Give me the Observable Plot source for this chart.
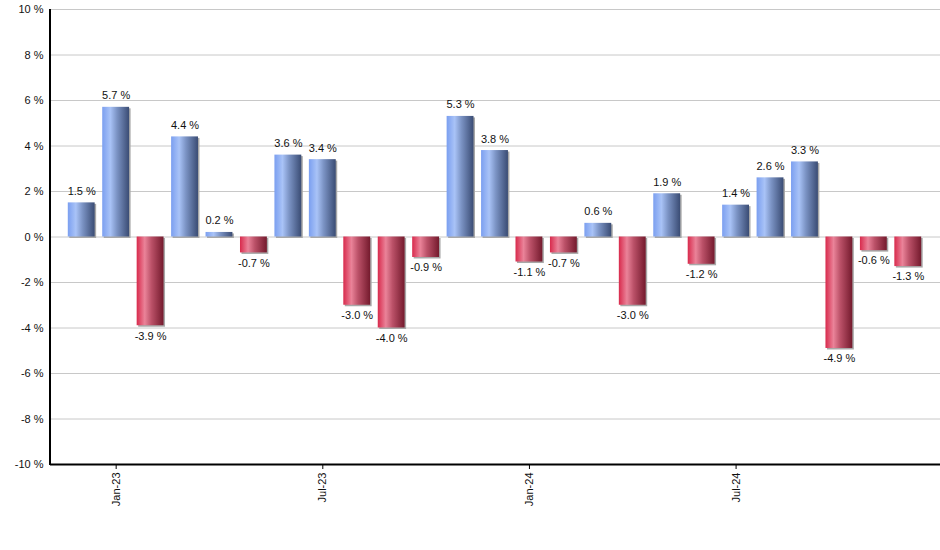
<!DOCTYPE html>
<html>
<head>
<meta charset="utf-8">
<script src="https://cdn.jsdelivr.net/npm/d3@7"></script>
<script src="https://cdn.jsdelivr.net/npm/@observablehq/plot@0.6"></script>
<style>
  html, body { margin: 0; padding: 0; background: #fff; }
  svg { display: block; }
</style>
</head>
<body>
<div id="chart"></div>
<script>
const months = ["Dec-22","Jan-23","Feb-23","Mar-23","Apr-23","May-23","Jun-23","Jul-23","Aug-23","Sep-23","Oct-23","Nov-23","Dec-23",
                "Jan-24","Feb-24","Mar-24","Apr-24","May-24","Jun-24","Jul-24","Aug-24","Sep-24","Oct-24","Nov-24","Dec-24"];
const returns = [1.5, 5.7, -3.9, 4.4, 0.2, -0.7, 3.6, 3.4, -3.0, -4.0, -0.9, 5.3, 3.8,
                 -1.1, -0.7, 0.6, -3.0, 1.9, -1.2, 1.4, 2.6, 3.3, -4.9, -0.6, -1.3];
const xTickLabels = ["Jan-23","Jul-23","Jan-24","Jul-24"];
const yTicks = [-10, -8, -6, -4, -2, 0, 2, 4, 6, 8, 10];

const data = months.map((m, i) => ({month: m, value: returns[i]}));
const pos = data.filter(d => d.value >= 0);
const neg = data.filter(d => d.value < 0);
const fmt = v => v.toFixed(1) + " %";

const W = 940, H = 550, ML = 50, MT = 9, MB = 86, MR = 0;

const plot = Plot.plot({
  width: W, height: H,
  marginLeft: ML, marginRight: MR, marginTop: MT, marginBottom: MB,
  style: {fontFamily: "'Liberation Sans', Arial, sans-serif", fontSize: "11px", color: "#111", background: "#fff"},
  x: {domain: months, range: [64, 925], paddingInner: 0.22, paddingOuter: 0.11, round: false, label: null},
  y: {domain: [-10, 10], label: null},
  marks: [
    Plot.ruleY(yTicks.filter(t => t > -10), {stroke: "#c8c8c8", strokeWidth: 1}),
    Plot.barY(data, {x: "month", y: "value", fill: "#a8a8a8", dx: 1.5, dy: 1.5}),
    Plot.barY(pos, {x: "month", y: "value", fill: "url(#gBlue)"}),
    Plot.barY(neg, {x: "month", y: "value", fill: "url(#gRed)"}),
    Plot.text(pos, {x: "month", y: "value", text: d => fmt(d.value), lineAnchor: "bottom", dy: -8, fill: "#111"}),
    Plot.text(neg, {x: "month", y: "value", text: d => fmt(d.value), lineAnchor: "top", dy: 6, fill: "#111"}),
    Plot.ruleY([-10], {stroke: "#000", strokeWidth: 2}),
    Plot.axisY({ticks: yTicks, tickSize: 0, tickPadding: 7, tickFormat: d => d + " %"}),
    Plot.axisX({ticks: xTickLabels, tickSize: 5, tickPadding: 3, tickRotate: -90, stroke: "#000"})
  ]
});

const svg = d3.select(plot);
const defs = svg.insert("defs", ":first-child");
function grad(id, stops) {
  const g = defs.append("linearGradient").attr("id", id)
    .attr("x1", "0").attr("x2", "1").attr("y1", "0").attr("y2", "0");
  stops.forEach(([o, c]) => g.append("stop").attr("offset", o).attr("stop-color", c));
}
grad("gBlue", [[0, "#7b9ff0"], [0.3, "#a9c3f7"], [0.55, "#7b93c4"], [1, "#3a4c74"]]);
grad("gRed", [[0, "#d82a4c"], [0.3, "#ea8399"], [0.55, "#bb5168"], [1, "#741a2d"]]);

svg.append("line")
  .attr("x1", ML).attr("x2", ML)
  .attr("y1", MT).attr("y2", H - MB + 1)
  .attr("stroke", "#000").attr("stroke-width", 2);

document.getElementById("chart").appendChild(plot);
</script>
</body>
</html>
